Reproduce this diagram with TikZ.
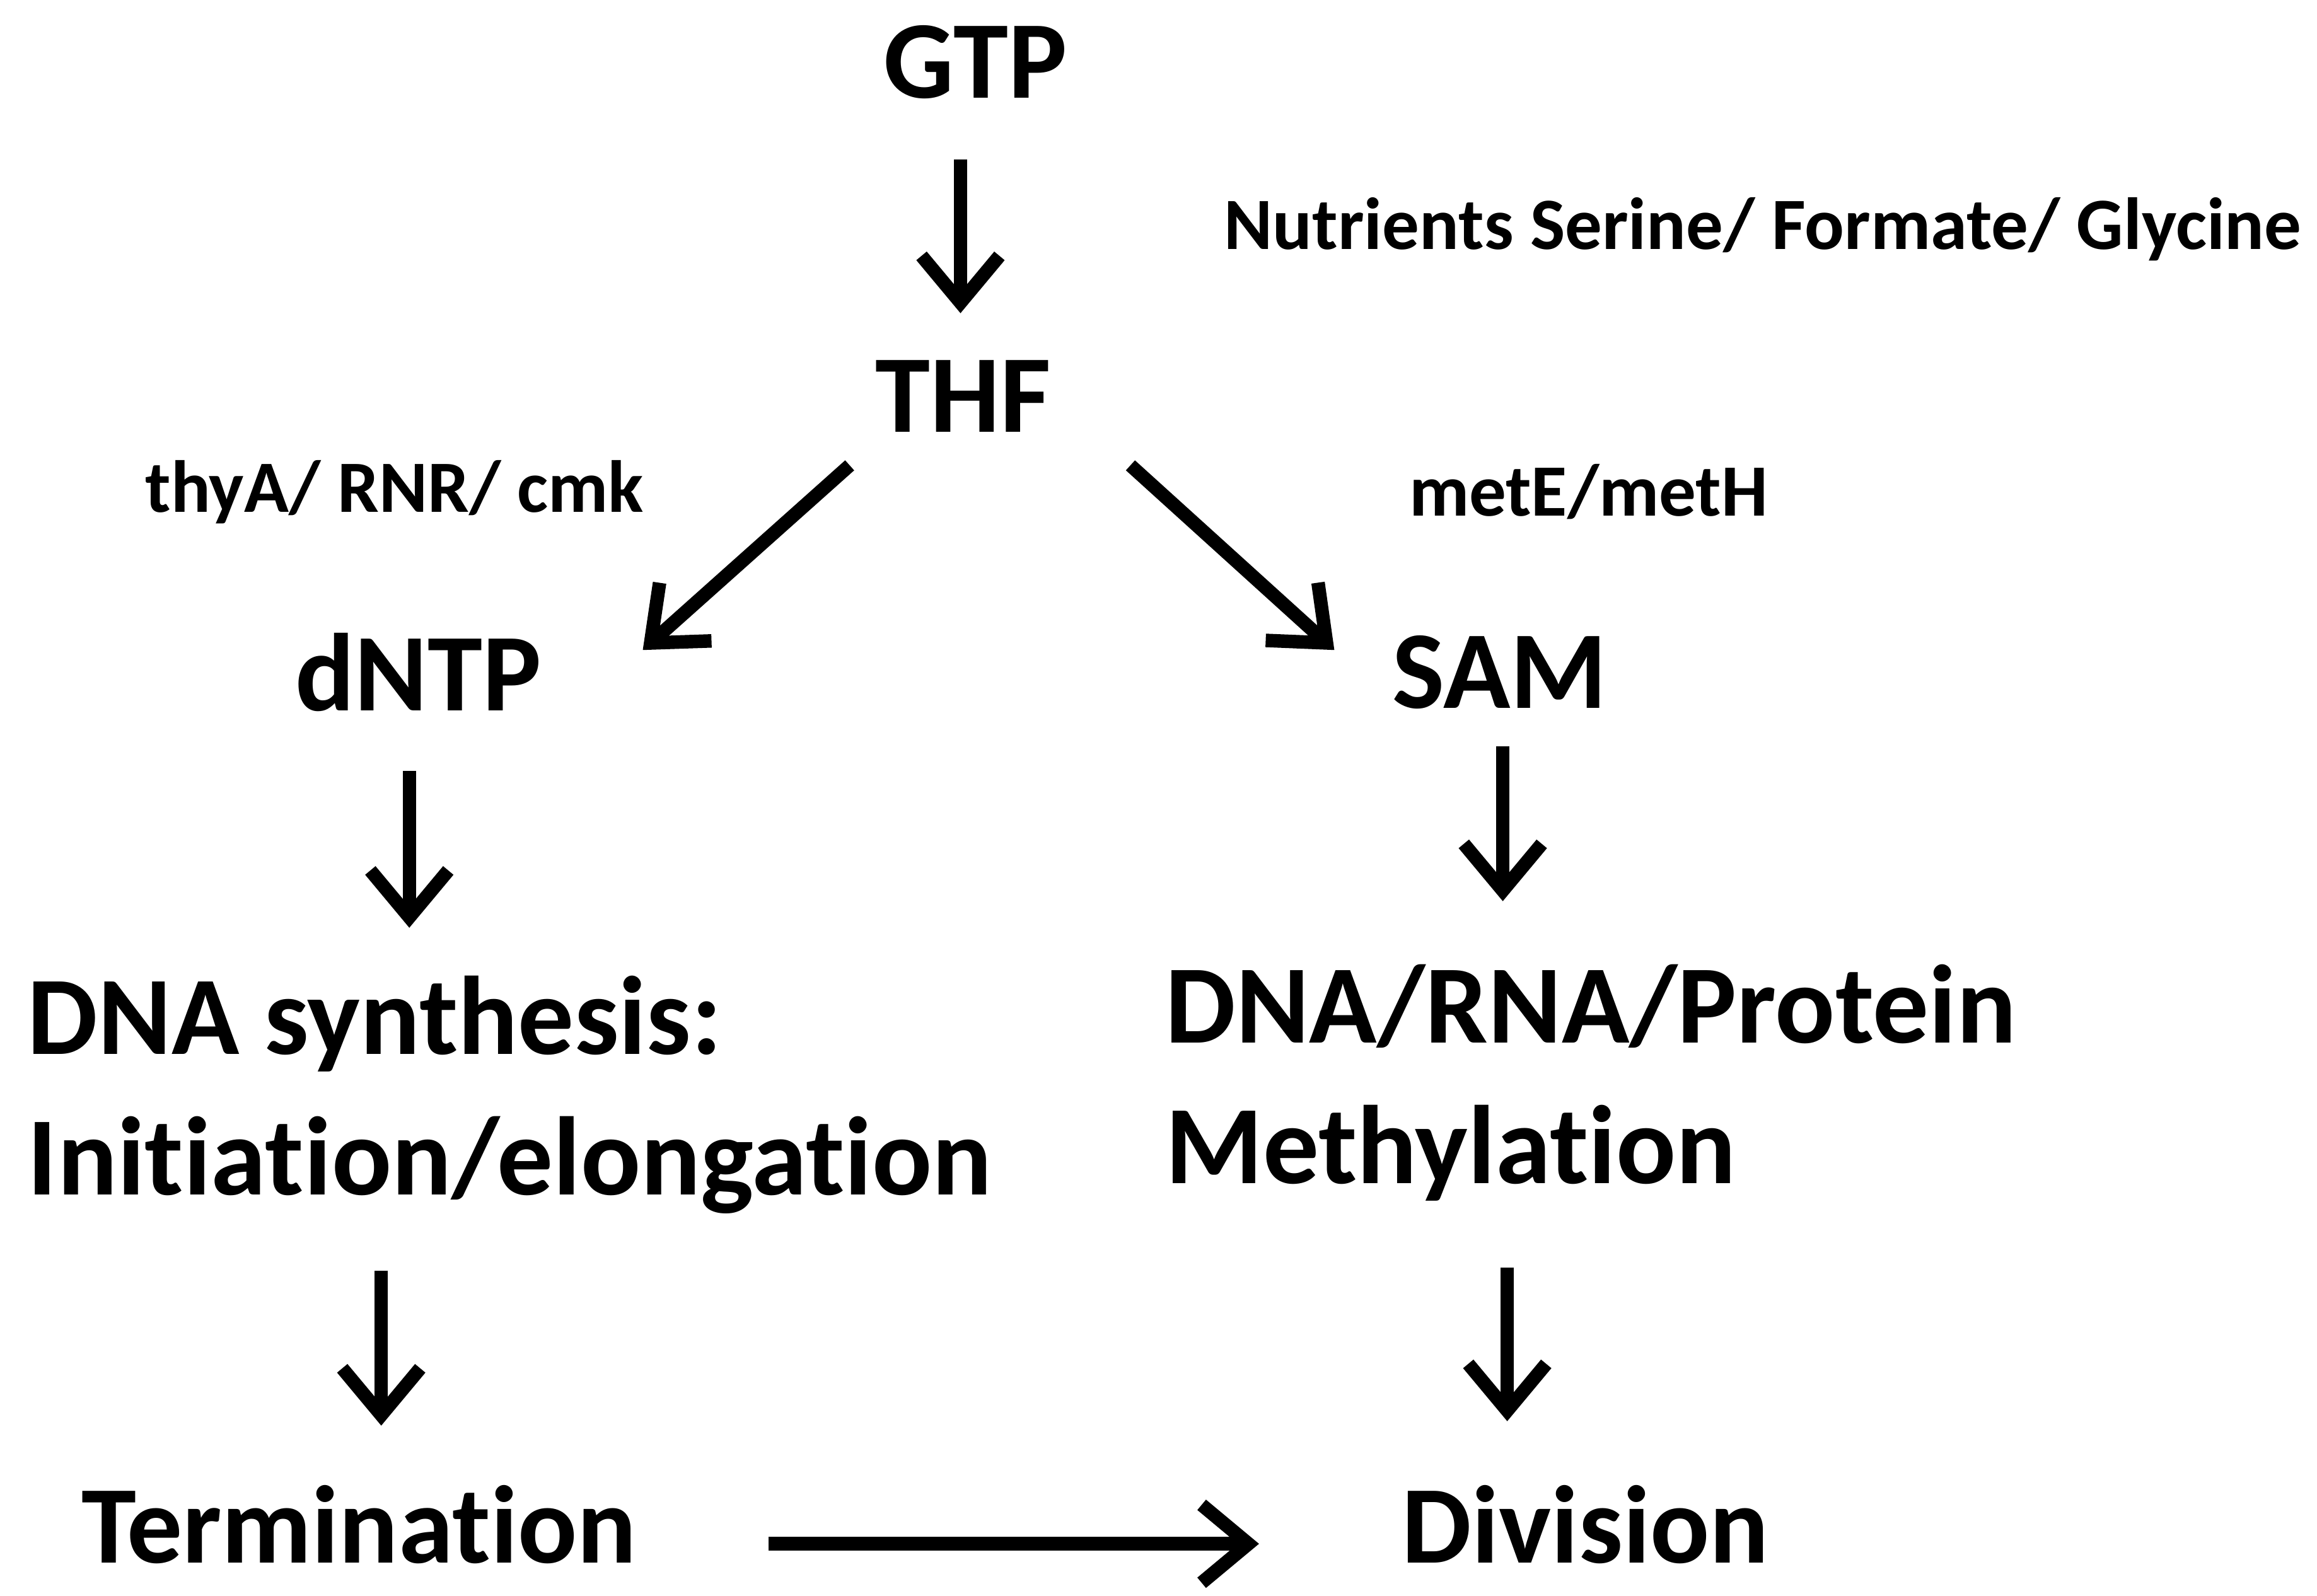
\documentclass[tikz,border=0pt]{standalone}
\usepackage{fontspec}
\setmainfont{Carlito}[Ligatures=NoCommon]
\usetikzlibrary{arrows.meta}
\begin{document}
\begin{tikzpicture}[x=0.01cm,y=-0.01cm,
  big/.style={font=\bfseries\fontsize{21.3}{25}\selectfont,inner sep=0},
  huge/.style={font=\bfseries\fontsize{21.5}{27}\selectfont,inner sep=0,anchor=west,align=left},
  small/.style={font=\bfseries\fontsize{14.2}{17}\selectfont,inner sep=0},
  arr/.style={line width=2.6pt,-{Straight Barb[length=9pt,width=15pt,line width=2.6pt]}}]
\useasboundingbox (0,0) rectangle (1568,1080);
\node[big] (gtp) at (660,42) {GTP};
\node[big] (thf) at (652,268) {THF};
\node[big] (dntp) at (283,455) {dNTP};
\node[big] (sam) at (1015,455) {SAM};
\node[small] (thy) at (267,333) {thyA/ RNR/ cmk};
\node[small] (met) at (1075,333) {metE/metH};
\node[small] (nut) at (1193,155) {Nutrients Serine/ Formate/ Glycine};
\node[huge] (dna) at (18,741) {DNA synthesis:\\Initiation/elongation};
\node[huge] (meth) at (788,733) {DNA/RNA/Protein\\Methylation};
\node[big] (term) at (243,1032) {Termination};
\node[big] (div) at (1073,1032) {Division};
\coordinate (a1) at (650,108); \coordinate (b1) at (650,212);
\coordinate (a2) at (575,315); \coordinate (b2) at (435,440);
\coordinate (a3) at (765,315); \coordinate (b3) at (903,440);
\coordinate (a4) at (277,522); \coordinate (b4) at (277,628);
\coordinate (a5) at (1017,505); \coordinate (b5) at (1017,610);
\coordinate (a6) at (258,860); \coordinate (b6) at (258,965);
\coordinate (a7) at (1020,858); \coordinate (b7) at (1020,962);
\coordinate (a8) at (520,1045); \coordinate (b8) at (852,1045);
\foreach \i in {1,...,8} \draw[arr] (a\i) -- (b\i);
\end{tikzpicture}
\end{document}
